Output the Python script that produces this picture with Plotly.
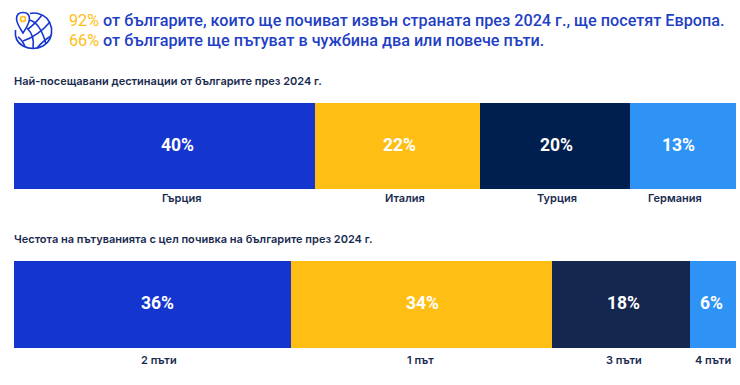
import plotly.graph_objects as go

# ---- data ----
top_categories = ["Гърция", "Италия", "Турция", "Германия"]
top_values = [40, 22, 20, 14.1]
top_labels = ["40%", "22%", "20%", "13%"]
bottom_categories = ["2 пъти", "1 път", "3 пъти", "4 пъти"]
bottom_values = [36, 34, 18, 6]
bottom_labels = ["36%", "34%", "18%", "6%"]
top_title = "Най-посещавани дестинации от българите през 2024 г."
bottom_title = "Честота на пътуванията с цел почивка на българите през 2024 г."
head_1 = ("92%", " от българите, които ще почиват извън страната през 2024 г., ще посетят Европа.")
head_2 = ("66%", " от българите ще пътуват в чужбина два или повече пъти.")

# ---- style ----
W, H = 740, 385
FONT = "Inter"
HFONT = "Roboto"
BLUE, YEL, SKY = "#1535cf", "#ffbe14", "#2e93f5"
top_colors = [BLUE, YEL, "#001f4f", SKY]
bottom_colors = [BLUE, YEL, "#14284f", SKY]
DARK = "#1a2b50"
HEAD = "#1f3fc4"
px = lambda v: v / W
py = lambda v: 1 - v / H

fig = go.Figure()
ann = []


def add_row(cats, vals, labels, colors, xa, ya, ytop, ybot, val_shift, cat_shift, cat_y):
    fig.add_traces([
        go.Bar(x=[v], y=[0], orientation="h", marker=dict(color=c, line_width=0),
               xaxis=xa, yaxis=ya, showlegend=False, hoverinfo="skip", width=1)
        for v, c in zip(vals, colors)
    ])
    left = 0
    for v, lab, cat, s, t in zip(vals, labels, cats, val_shift, cat_shift):
        mid = left + v / 2
        ann.append(dict(x=mid, y=0, xref=xa, yref=ya, text=lab, showarrow=False, xshift=s,
                        yanchor="middle", yshift=1.5,
                        font=dict(family=HFONT, size=17.5, color="white", weight=700)))
        ann.append(dict(x=mid, y=py(cat_y), xref=xa, yref="paper", text=cat, showarrow=False, xshift=t,
                        yanchor="middle",
                        font=dict(family=FONT, size=11, color=DARK, weight=600)))
        left += v
    axis = dict(visible=False, fixedrange=True)
    key = xa.replace("x", "xaxis")
    keyy = ya.replace("y", "yaxis")
    fig.update_layout({
        key: dict(axis, domain=[px(14), px(736)], range=[0, sum(vals)], anchor=ya),
        keyy: dict(axis, domain=[py(ybot), py(ytop)], range=[-0.5, 0.5], anchor=xa),
    })


add_row(top_categories, top_values, top_labels, top_colors, "x", "y", 103, 189,
        [13.5, 2, 2, -5], [17, 8, 2, -8], 198)
add_row(bottom_categories, bottom_values, bottom_labels, bottom_colors, "x2", "y2", 261, 348,
        [5, 1, 3, -1], [7, -1, 3, 0], 360)

for y, (a, b) in zip((20, 40), (head_1, head_2)):
    ann.append(dict(x=px(67), y=py(y), xref="paper", yref="paper", xanchor="left", yanchor="middle",
                    showarrow=False,
                    text=f'<span style="color:{YEL};font-weight:400">{a}</span>{b}',
                    font=dict(family=HFONT, size=16.2, color=HEAD, weight=500)))
for y, t in ((81, top_title), (239, bottom_title)):
    ann.append(dict(x=px(12), y=py(y), xref="paper", yref="paper", xanchor="left", yanchor="middle",
                    showarrow=False,
                    text=t, font=dict(family=FONT, size=11, color=DARK, weight=600)))


# ---- globe icon ----
def path(d):
    out = []
    for tok in d.split():
        if "," in tok:
            a, b = tok.split(",")
            out.append(f"{px(float(a)):.5f},{py(float(b)):.5f}")
        else:
            out.append(tok)
    return " ".join(out)


icon_lines = [
    "M 30,13.5 Q 34,12.5 38,13.5 Q 49,16 51.5,28 Q 53,40 43,46 Q 33,51 23,46 Q 14,41 15.5,30",  # outline
    "M 42,15 Q 35,24 28,29",
    "M 50,22 Q 38,36 23,41",
    "M 51,36 Q 44,40 37,48",
    "M 29,20 Q 40,22 46,44",
    "M 27,28 Q 35,36 33,48",
    "M 18,37 Q 23,41 25,47",
]
shapes = [dict(type="path", xref="paper", yref="paper", path=path(d),
               line=dict(color=BLUE, width=1.6), fillcolor="rgba(0,0,0,0)") for d in icon_lines]
shapes.append(dict(type="path", xref="paper", yref="paper",
                   path=path("M 16.5,19 Q 16.5,12.5 23,12.5 Q 29.5,12.5 29.5,19 Q 29,24 23,33 Q 17,24 16.5,19 Z"),
                   line=dict(color=BLUE, width=1.6), fillcolor="white"))
shapes.append(dict(type="circle", xref="paper", yref="paper",
                   x0=px(20.5), x1=px(25.5), y0=py(21.5), y1=py(16.5),
                   line=dict(color=YEL, width=1.7)))

fig.update_layout(width=W, height=H, margin=dict(l=0, r=0, t=0, b=0),
                  paper_bgcolor="white", plot_bgcolor="white",
                  barmode="stack", bargap=0, annotations=ann, shapes=shapes,
                  showlegend=False)
fig.write_html("out.html", config=dict(displayModeBar=False),
               post_script="document.body.style.margin='0';")
